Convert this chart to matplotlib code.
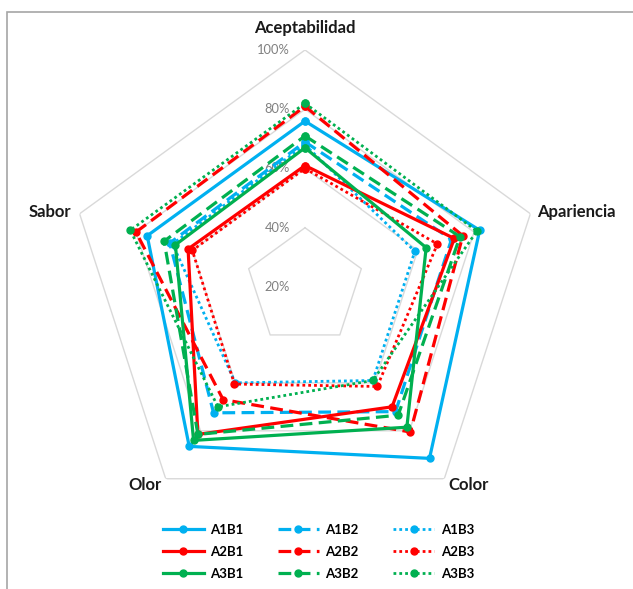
import numpy as np
import matplotlib
matplotlib.use("Agg")
import matplotlib.pyplot as plt
from matplotlib.patches import Rectangle

categories = ["Aceptabilidad", "Apariencia", "Color", "Olor", "Sabor"]

# sensory scores (%) per treatment, same order as categories
A1B1 = [76, 82, 91.5, 86.5, 76]
A1B2 = [69, 72, 72, 72.5, 68]
A1B3 = [68, 59, 59, 60, 67]
A2B1 = [61, 73, 70, 81.5, 61.5]
A2B2 = [81, 76, 80.5, 67, 80]
A2B3 = [60, 67, 61.5, 60.5, 60]
A3B1 = [67, 63, 78.5, 84, 66]
A3B2 = [71, 75, 73.5, 81.5, 70]
A3B3 = [82, 81, 59, 70, 82]

ticks = [20, 40, 60, 80, 100]

blue = "#00B0F0"
red = "#FF0000"
green = "#00B050"
dash = (0, (4, 2))
dot = (0, (1, 1.1))

series = [
    ("A1B1", A1B1, blue, "-"),
    ("A1B2", A1B2, blue, dash),
    ("A1B3", A1B3, blue, dot),
    ("A2B1", A2B1, red, "-"),
    ("A2B2", A2B2, red, dash),
    ("A2B3", A2B3, red, dot),
    ("A3B1", A3B1, green, "-"),
    ("A3B2", A3B2, green, dash),
    ("A3B3", A3B3, green, dot),
]

W, H = 633, 589
fig = plt.figure(figsize=(W / 100, H / 100), dpi=100)

# chart border
fig.patches.append(Rectangle((7 / W, -0.05), 1.1, 1.05 - 12 / H, transform=fig.transFigure,
                             fill=False, edgecolor="#a6a6a6", linewidth=1.2))

cx, cy, R = 305, 287, 237
ax = fig.add_axes([(cx - R) / W, 1 - (cy + R) / H, 2 * R / W, 2 * R / H], projection="polar")
ax.set_theta_offset(np.pi / 2)
ax.set_theta_direction(-1)
ax.set_ylim(20, 100)
ax.grid(False)
ax.spines["polar"].set_visible(False)
ax.set_xticks([])
ax.set_yticks([])
ax.patch.set_alpha(0)

n = len(categories)
angles = np.linspace(0, 2 * np.pi, n, endpoint=False)
closed = np.append(angles, angles[0])

# pentagon gridlines
for t in ticks[1:]:
    ax.plot(closed, [t] * (n + 1), color="#d9d9d9", lw=1.0, zorder=1)

for t in ticks:
    ax.annotate(f"{t}%", (0, t), xytext=(-15, 0), textcoords="offset pixels",
                ha="right", va="center", fontsize=9.3, color="#808080", family="Lato")

for name, vals, col, ls in series:
    v = np.append(vals, vals[0])
    lw = 2.0 if ls is dot else 2.3
    ax.plot(closed, v, color=col, linestyle=ls, lw=lw, marker="o", markersize=5,
            label=name, zorder=3, clip_on=False)

offsets = {
    "Aceptabilidad": ((0, 22), "center"),
    "Apariencia": ((7, 2), "left"),
    "Color": ((4, -6), "left"),
    "Olor": ((-4, -6), "right"),
    "Sabor": ((-8, 2), "right"),
}
for a, name in zip(angles, categories):
    off, ha = offsets[name]
    ax.annotate(name, (a, 100), xytext=off, textcoords="offset pixels", ha=ha, va="center",
                fontsize=12, fontweight="bold", family="Lato", color="#1a1a1a",
                annotation_clip=False)

handles, labels = ax.get_legend_handles_labels()
order = [0, 3, 6, 1, 4, 7, 2, 5, 8]
fig.legend([handles[i] for i in order], [labels[i] for i in order], ncol=3,
           loc="center", bbox_to_anchor=(0.503, 1 - 552 / H), frameon=False,
           prop={"family": "Lato", "weight": "bold", "size": 9.5},
           handlelength=3.1, columnspacing=2.6, labelspacing=0.75, handletextpad=0.5)

fig.savefig("out.png", dpi=100)
